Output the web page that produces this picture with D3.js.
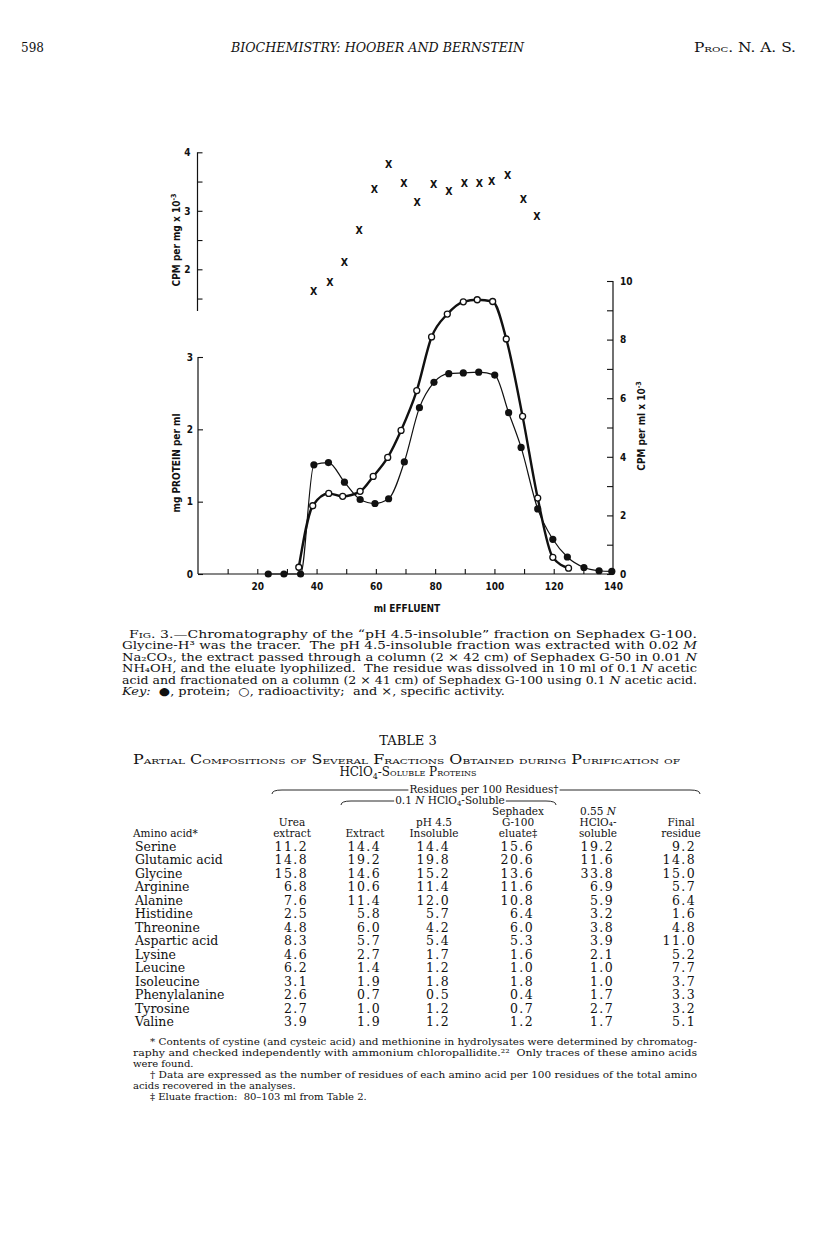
<!DOCTYPE html>
<html><head><meta charset="utf-8">
<script src="https://cdn.jsdelivr.net/npm/d3@7"></script>
<style>body{margin:0;background:#fff} svg{display:block}</style>
</head><body>
<svg id="c" width="816" height="1253"></svg>
<script>
// ---------- chart data ----------
const specMl  = [39, 44.5, 49.4, 54.4, 59.5, 64.3, 69.5, 73.9, 79.5, 84.6, 89.9, 94.9, 99.1, 104.5, 109.8, 114.3];
const specAct = [1.63, 1.78, 2.12, 2.66, 3.36, 3.79, 3.47, 3.15, 3.45, 3.33, 3.47, 3.47, 3.50, 3.61, 3.20, 2.90];
const protMl  = [23.7, 29.0, 34.6, 39.1, 44.0, 49.4, 54.7, 59.7, 64.3, 69.6, 74.7, 79.6, 84.6, 89.5, 94.7, 100.1, 104.8, 109.0, 114.6, 119.7, 124.6, 130.2, 135.3, 139.6];
const protein = [0, 0, 0, 1.51, 1.54, 1.27, 1.03, 0.975, 1.04, 1.55, 2.30, 2.65, 2.77, 2.78, 2.79, 2.75, 2.23, 1.75, 0.90, 0.48, 0.235, 0.09, 0.045, 0.035];
const radMl   = [34.0, 38.7, 44.1, 48.8, 54.7, 59.1, 64.0, 68.5, 73.8, 78.8, 84.1, 89.5, 94.2, 99.4, 104.0, 109.5, 114.6, 119.7, 125.0];
const radio   = [0.23, 2.33, 2.75, 2.65, 2.82, 3.33, 3.98, 4.90, 6.26, 8.09, 8.87, 9.29, 9.36, 9.30, 8.02, 5.38, 2.59, 0.57, 0.20];
const xTickVals   = [10, 20, 30, 40, 50, 60, 70, 80, 90, 100, 110, 120, 130];
const xLabelVals  = [20, 40, 60, 80, 100, 120, 140];
const upTickVals  = [1.5, 2, 2.5, 3, 3.5, 4];
const protTickVals = [0, 1, 2, 3];
const radTickVals = [0, 1, 2, 3, 4, 5, 6, 7, 8, 9, 10];

// ---------- table data ----------
const aminoAcids = ["Serine","Glutamic acid","Glycine","Arginine","Alanine","Histidine","Threonine","Aspartic acid","Lysine","Leucine","Isoleucine","Phenylalanine","Tyrosine","Valine"];
const ureaExtract    = [11.2, 14.8, 15.8, 6.8, 7.6, 2.5, 4.8, 8.3, 4.6, 6.2, 3.1, 2.6, 2.7, 3.9];
const hclo4Extract   = [14.4, 19.2, 14.6, 10.6, 11.4, 5.8, 6.0, 5.7, 2.7, 1.4, 1.9, 0.7, 1.0, 1.9];
const ph45Insoluble  = [14.4, 19.8, 15.2, 11.4, 12.0, 5.7, 4.2, 5.4, 1.7, 1.2, 1.8, 0.5, 1.2, 1.2];
const sephadexEluate = [15.6, 20.6, 13.6, 11.6, 10.8, 6.4, 6.0, 5.3, 1.6, 1.0, 1.8, 0.4, 0.7, 1.2];
const hclo455Soluble = [19.2, 11.6, 33.8, 6.9, 5.9, 3.2, 3.8, 3.9, 2.1, 1.0, 1.0, 1.7, 2.7, 1.7];
const finalResidue   = [9.2, 14.8, 15.0, 5.7, 6.4, 1.6, 4.8, 11.0, 5.2, 7.7, 3.7, 3.3, 3.2, 5.1];

const svg = d3.select("#c");
svg.append("rect").attr("width",816).attr("height",1253).attr("fill","#fff");
const SERIF = "'DejaVu Serif', serif";
const SANS = "'DejaVu Sans Condensed','DejaVu Sans',sans-serif";

// ---------- page header ----------
const hdr = svg.append("g").attr("font-family", SERIF).attr("font-size", 12).attr("fill","#111");
hdr.append("text").attr("x",21).attr("y",52).text("598");
hdr.append("text").attr("x",231).attr("y",52).attr("font-style","italic")
  .attr("textLength",293).attr("lengthAdjust","spacingAndGlyphs").text("BIOCHEMISTRY: HOOBER AND BERNSTEIN");
hdr.append("text").attr("x",694).attr("y",52).style("font-variant","small-caps")
  .attr("textLength",102).attr("lengthAdjust","spacingAndGlyphs").text("Proc. N. A. S.");

// ---------- chart ----------
const x = d3.scaleLinear().domain([0,140]).range([198,613]);
const yUp = d3.scaleLinear().domain([2,4]).range([269.3,152.3]);
const yProt = d3.scaleLinear().domain([0,3]).range([574,357]);
const yRad = d3.scaleLinear().domain([0,10]).range([574,281]);

const ch = svg.append("g").attr("font-family", SANS).attr("font-weight","bold").attr("font-size",10).attr("fill","#111");

function styleAxis(g){
  g.select(".domain").remove();
  g.selectAll(".tick line").attr("stroke","#111").attr("stroke-width",1.1);
  g.selectAll(".tick text").attr("font-family",SANS).attr("font-weight","bold").attr("font-size",10).attr("fill","#111");
}

// upper axis (specific activity)
const upBottom = yUp.invert(311);
ch.append("line").attr("x1",197.5).attr("x2",197.5).attr("y1",yUp(4)).attr("y2",yUp(upBottom)).attr("stroke","#111").attr("stroke-width",1.2);
ch.append("g").attr("transform","translate(197.5,0)")
  .call(d3.axisLeft(yUp).tickValues(upTickVals).tickSize(-5).tickPadding(7).tickFormat(d => Number.isInteger(d) ? d : ""))
  .call(styleAxis);

// lower left axis (protein)
ch.append("line").attr("x1",198).attr("x2",198).attr("y1",yProt(0)).attr("y2",yProt(3)).attr("stroke","#111").attr("stroke-width",1.2);
ch.append("g").attr("transform","translate(198,0)")
  .call(d3.axisLeft(yProt).tickValues(protTickVals).tickSize(-5).tickPadding(5).tickFormat(d3.format("d")))
  .call(styleAxis);

// right axis (radioactivity)
ch.append("line").attr("x1",613).attr("x2",613).attr("y1",yRad(0)).attr("y2",yRad(10)).attr("stroke","#111").attr("stroke-width",1.2);
ch.append("g").attr("transform","translate(613,0)")
  .call(d3.axisRight(yRad).tickValues(radTickVals).tickSize(-6).tickPadding(7).tickFormat(d => d % 2 === 0 ? d : ""))
  .call(styleAxis);

// x axis
ch.append("line").attr("x1",x(0)).attr("x2",x(140)).attr("y1",574).attr("y2",574).attr("stroke","#111").attr("stroke-width",1.2);
ch.append("g").attr("transform","translate(0,574)")
  .call(d3.axisBottom(x).tickValues(xTickVals).tickSize(-5).tickFormat(""))
  .call(styleAxis);
ch.append("g").attr("transform","translate(0,574)")
  .call(d3.axisBottom(x).tickValues(xLabelVals).tickSize(0).tickPadding(9).tickFormat(d3.format("d")))
  .call(styleAxis);

// axis titles
const t1 = ch.append("text").attr("transform","translate(180,240) rotate(-90)").attr("text-anchor","middle");
t1.append("tspan").text("CPM per mg x 10");
t1.append("tspan").attr("font-size",7).attr("dy",-4).text("-3");
ch.append("text").attr("transform","translate(180,463) rotate(-90)").attr("text-anchor","middle").text("mg PROTEIN per ml");
const t3 = ch.append("text").attr("transform","translate(645,426) rotate(-90)").attr("text-anchor","middle");
t3.append("tspan").text("CPM per ml x 10");
t3.append("tspan").attr("font-size",7).attr("dy",-4).text("-3");
ch.append("text").attr("x",407).attr("y",612).attr("text-anchor","middle").text("ml EFFLUENT");

// curves
const radPts = radMl.map((m,i)=>[m, radio[i]]);
const protPts = protMl.map((m,i)=>[m, protein[i]]);
ch.append("path").datum(radPts)
  .attr("d", d3.line().x(d=>x(d[0])).y(d=>yRad(d[1])).curve(d3.curveMonotoneX))
  .attr("fill","none").attr("stroke","#111").attr("stroke-width",2.4);
ch.append("path").datum(protPts)
  .attr("d", d3.line().x(d=>x(d[0])).y(d=>yProt(d[1])).curve(d3.curveMonotoneX))
  .attr("fill","none").attr("stroke","#111").attr("stroke-width",1.2);

// markers
ch.selectAll("circle.rad").data(radPts).join("circle").attr("class","rad")
  .attr("cx",d=>x(d[0])).attr("cy",d=>yRad(d[1])).attr("r",3)
  .attr("fill","#fff").attr("stroke","#111").attr("stroke-width",1.3);
ch.selectAll("circle.prot").data(protPts).join("circle").attr("class","prot")
  .attr("cx",d=>x(d[0])).attr("cy",d=>yProt(d[1])).attr("r",3.6).attr("fill","#111");
ch.selectAll("text.spec").data(specMl.map((m,i)=>[m,specAct[i]])).join("text").attr("class","spec")
  .attr("x",d=>x(d[0])).attr("y",d=>yUp(d[1])).attr("dy","0.35em").attr("text-anchor","middle")
  .attr("font-size",10.5).text("X");

// ---------- caption ----------
const cap = svg.append("g").attr("font-family",SERIF).attr("font-size",10.8).attr("fill","#111");
const captionLines = [
  {x:129, w:568, parts:[["Fig.","sc"],[" 3.—Chromatography of the \u201cpH 4.5-insoluble\u201d fraction on Sephadex G-100.",""]]},
  {x:122, w:575, parts:[["Glycine-H\u00b3 was the tracer.  The pH 4.5-insoluble fraction was extracted with 0.02 ",""],["M","i"]]},
  {x:122, w:575, parts:[["Na\u2082CO\u2083, the extract passed through a column (2 \u00d7 42 cm) of Sephadex G-50 in 0.01 ",""],["N","i"]]},
  {x:122, w:575, parts:[["NH\u2084OH, and the eluate lyophilized.  The residue was dissolved in 10 ml of 0.1 ",""],["N","i"],[" acetic",""]]},
  {x:122, w:575, parts:[["acid and fractionated on a column (2 \u00d7 41 cm) of Sephadex G-100 using 0.1 ",""],["N","i"],[" acetic acid.",""]]},
  {x:122, w:383, parts:[["Key:","i"],["  \u25cf, protein;  \u25cb, radioactivity;  and \u00d7, specific activity.",""]]}
];
captionLines.forEach((ln,i)=>{
  const t = cap.append("text").attr("x",ln.x).attr("y",638 + i*11.4)
    .attr("textLength",ln.w).attr("lengthAdjust","spacingAndGlyphs").attr("xml:space","preserve");
  ln.parts.forEach(p=>{
    const s = t.append("tspan").text(p[0]);
    if (p[1]==="i") s.attr("font-style","italic");
    if (p[1]==="sc") s.style("font-variant","small-caps");
  });
});

// ---------- table ----------
const tb = svg.append("g").attr("font-family",SERIF).attr("fill","#111");
tb.append("text").attr("x",408).attr("y",745).attr("text-anchor","middle").attr("font-size",13).text("TABLE 3");
tb.append("text").attr("x",133).attr("y",764).attr("font-size",12).style("font-variant","small-caps")
  .attr("textLength",547).attr("lengthAdjust","spacingAndGlyphs")
  .text("Partial Compositions of Several Fractions Obtained during Purification of");
const st = tb.append("text").attr("x",408).attr("y",776).attr("font-size",12).attr("text-anchor","middle");
st.append("tspan").text("HClO");
st.append("tspan").attr("font-size",8).attr("dy",3).text("4");
st.append("tspan").attr("dy",-3).style("font-variant","small-caps").text("-Soluble Proteins");

function brace(x1, x2, y, textSel){
  const bb = textSel.node().getBBox();
  const tl = bb.x - 1, tr = bb.x + bb.width + 1;
  const p = `M${x1},${y+4} Q${x1},${y} ${x1+10},${y} L${tl},${y} M${tr},${y} L${x2-10},${y} Q${x2},${y} ${x2},${y+4}`;
  tb.append("path").attr("d",p).attr("fill","none").attr("stroke","#111").attr("stroke-width",0.9);
}
const hs = 10.5;
const b1 = tb.append("text").attr("x",484).attr("y",793).attr("text-anchor","middle").attr("font-size",hs).text("Residues per 100 Residues\u2020");
brace(272, 700, 790, b1);
const b2 = tb.append("text").attr("x",450).attr("y",804).attr("text-anchor","middle").attr("font-size",hs);
b2.append("tspan").text("0.1 ");
b2.append("tspan").attr("font-style","italic").text("N");
b2.append("tspan").text(" HClO");
b2.append("tspan").attr("font-size",7).attr("dy",2).text("4");
b2.append("tspan").attr("dy",-2).text("-Soluble");
brace(341, 556, 801, b2);

const colCenters = [292, 365, 434, 518, 598, 681];
const colRight   = [308, 381, 450, 534, 614, 696];
const headers = [
  [["Urea"],["extract"]],
  [["Extract"]],
  [["pH 4.5"],["Insoluble"]],
  [["Sephadex"],["G-100"],["eluate\u2021"]],
  [["0.55 ","N"],["HClO\u2084-"],["soluble"]],
  [["Final"],["residue"]]
];
const headerBase = 837;
headers.forEach((h,ci)=>{
  h.forEach((line,li)=>{
    const yy = headerBase - (h.length-1-li)*11;
    const t = tb.append("text").attr("x",colCenters[ci]).attr("y",yy).attr("text-anchor","middle").attr("font-size",hs);
    t.append("tspan").text(line[0]);
    if (line[1]) t.append("tspan").attr("font-style","italic").text(line[1]);
  });
});
tb.append("text").attr("x",133).attr("y",headerBase).attr("font-size",hs).text("Amino acid*");

const cols = [ureaExtract, hclo4Extract, ph45Insoluble, sephadexEluate, hclo455Soluble, finalResidue];
const rowY = d3.scalePoint().domain(aminoAcids).range([851, 1026]);
const fmt = d3.format(".1f");
aminoAcids.forEach((a,ri)=>{
  tb.append("text").attr("x",135).attr("y",rowY(a)).attr("font-size",12.5).text(a);
  cols.forEach((c,ci)=>{
    tb.append("text").attr("x",colRight[ci]).attr("y",rowY(a)).attr("text-anchor","end")
      .attr("font-size",12.5).attr("letter-spacing",1.4).text(fmt(c[ri]));
  });
});

// ---------- footnotes ----------
const fn = svg.append("g").attr("font-family",SERIF).attr("font-size",10).attr("fill","#111");
const footLines = [
  {x:150, w:547, t:"* Contents of cystine (and cysteic acid) and methionine in hydrolysates were determined by chromatog-"},
  {x:133, w:564, t:"raphy and checked independently with ammonium chloropallidite.\u00b2\u00b2  Only traces of these amino acids"},
  {x:133, w:0, t:"were found."},
  {x:150, w:547, t:"\u2020 Data are expressed as the number of residues of each amino acid per 100 residues of the total amino"},
  {x:133, w:0, t:"acids recovered in the analyses."},
  {x:150, w:0, t:"\u2021 Eluate fraction:  80\u2013103 ml from Table 2."}
];
footLines.forEach((l,i)=>{
  const t = fn.append("text").attr("x",l.x).attr("y",1045 + i*10.9).attr("xml:space","preserve").text(l.t);
  if (l.w) t.attr("textLength",l.w).attr("lengthAdjust","spacingAndGlyphs");
});
</script>
</body></html>
